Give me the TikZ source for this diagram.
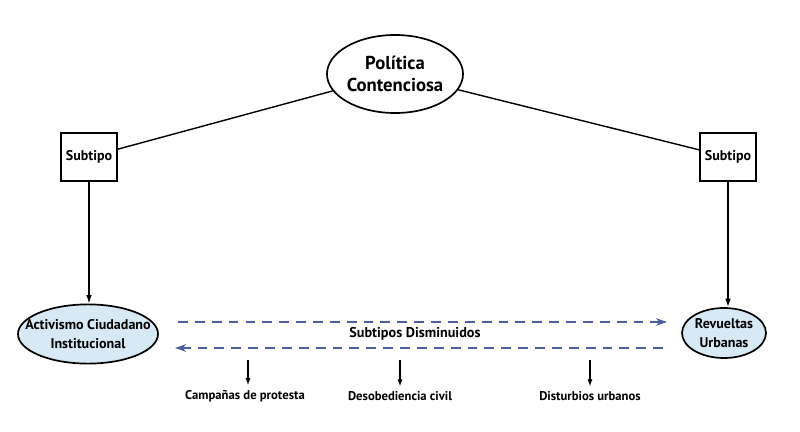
\documentclass[tikz,border=0pt]{standalone}
\usepackage{fontspec}
\setmainfont{PT Sans}
\usetikzlibrary{positioning, calc, arrows.meta, shapes.geometric}
\definecolor{caseblue}{HTML}{D6E9F5}
\definecolor{dashblue}{HTML}{4A5FA0}

\begin{document}
\begin{tikzpicture}[x=0.025cm, y=-0.025cm,
concept/.style={ellipse, draw=black, line width=1.2pt, inner xsep=-8pt, inner ysep=0pt, minimum width=3.4cm, minimum height=1.95cm, align=center, font=\bfseries\fontsize{13.3}{15.5}\selectfont},
subtype/.style={rectangle, draw=black, line width=1.2pt, minimum width=1.4cm, minimum height=1.2cm, inner sep=1pt, font=\bfseries\fontsize{10}{12}\selectfont},
case/.style={ellipse, draw=black, line width=1.2pt, fill=caseblue, inner xsep=-10pt, inner ysep=0pt, align=center, font=\bfseries\fontsize{10}{13}\selectfont},
example/.style={font=\bfseries\fontsize{9}{11}\selectfont},
reduced/.style={dashblue, line width=1.1pt, dash pattern=on 7pt off 5pt, -{Stealth[length=8pt, width=5.5pt]}}]
\useasboundingbox (0,0) rectangle (800,432);
\node (A) [concept] at (395,74) {Política\\Contenciosa};
\node (B) [subtype] at (89,157) {Subtipo};
\node (C) [subtype] at (728,157) {Subtipo};
\node (D) [case, minimum width=3.5cm, minimum height=1.48cm] at (88,334) {Activismo Ciudadano\\Institucional};
\node (E) [case, inner xsep=-2pt, minimum width=2.1cm, minimum height=1.25cm] at (724,333) {Revueltas\\Urbanas};
\node (F) [font=\bfseries\fontsize{10.1}{12}\selectfont] at (415,334) {Subtipos Disminuidos};
\node (G) [example] at (245,396) {Campañas de protesta};
\node (H) [example] at (400,396) {Desobediencia civil};
\node (I) [example] at (590,396) {Disturbios urbanos};
% free ends of the dashed lines
\coordinate (L1) at (178,322);
\coordinate (R1) at (667,322);
\coordinate (L2) at (175,348);
\coordinate (R2) at (663,348);
\path (A) edge[line width=1pt] (B)
      (A) edge[line width=1pt] (C)
      (B) edge[line width=1pt, -{Latex[length=6pt, width=4pt]}] (B |- D.north)
      (C) edge[line width=1pt, -{Latex[length=6pt, width=4pt]}] (C |- E.north);
\draw[reduced] (L1) -- (R1);
\draw[reduced] (R2) -- (L2);
\draw[line width=0.8pt, -{Latex[length=5pt, width=3.5pt]}] (248,360) -- (G.north -| 248,0);
\draw[line width=0.8pt, -{Latex[length=5pt, width=3.5pt]}] (400,360) -- (H.north);
\draw[line width=0.8pt, -{Latex[length=5pt, width=3.5pt]}] (590,360) -- (I.north);
\end{tikzpicture}
\end{document}
